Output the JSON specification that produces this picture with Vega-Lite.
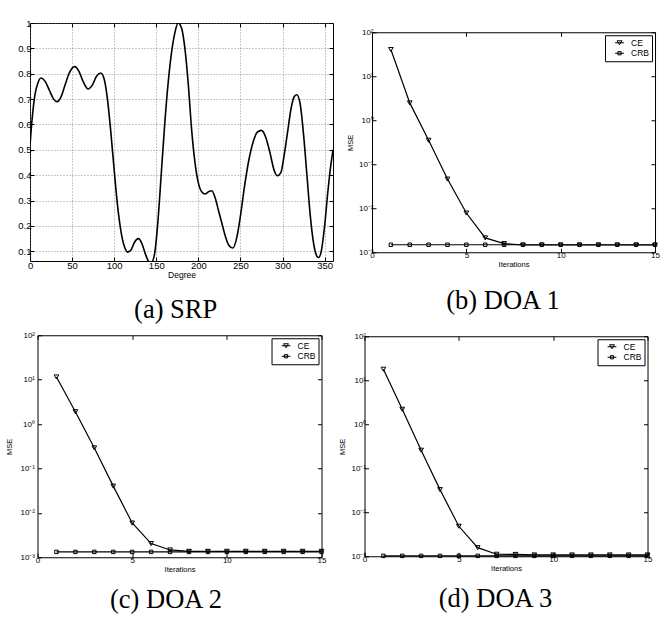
{
  "$schema": "https://vega.github.io/schema/vega-lite/v6.json",
  "background": "white",
  "padding": {"left": 5, "top": 5, "right": 2, "bottom": 2},
  "datasets": {
    "srp": [
      {"deg": 0, "v": 0.52}, {"deg": 3, "v": 0.64}, {"deg": 6, "v": 0.72}, {"deg": 9, "v": 0.76},
      {"deg": 13, "v": 0.783}, {"deg": 18, "v": 0.77}, {"deg": 23, "v": 0.735}, {"deg": 28, "v": 0.70},
      {"deg": 32, "v": 0.69}, {"deg": 37, "v": 0.71}, {"deg": 42, "v": 0.76}, {"deg": 47, "v": 0.805},
      {"deg": 53, "v": 0.828}, {"deg": 58, "v": 0.81}, {"deg": 63, "v": 0.77}, {"deg": 69, "v": 0.74},
      {"deg": 74, "v": 0.755}, {"deg": 79, "v": 0.79}, {"deg": 84, "v": 0.803}, {"deg": 88, "v": 0.78},
      {"deg": 92, "v": 0.70}, {"deg": 96, "v": 0.57}, {"deg": 100, "v": 0.42}, {"deg": 104, "v": 0.28},
      {"deg": 108, "v": 0.18}, {"deg": 112, "v": 0.12}, {"deg": 116, "v": 0.097}, {"deg": 120, "v": 0.105},
      {"deg": 124, "v": 0.135}, {"deg": 129, "v": 0.15}, {"deg": 133, "v": 0.13}, {"deg": 137, "v": 0.09},
      {"deg": 141, "v": 0.06}, {"deg": 144, "v": 0.055}, {"deg": 148, "v": 0.09}, {"deg": 152, "v": 0.22},
      {"deg": 156, "v": 0.41}, {"deg": 160, "v": 0.60}, {"deg": 164, "v": 0.76}, {"deg": 168, "v": 0.88},
      {"deg": 172, "v": 0.96}, {"deg": 176, "v": 1.0}, {"deg": 180, "v": 0.98}, {"deg": 184, "v": 0.90},
      {"deg": 188, "v": 0.76}, {"deg": 192, "v": 0.58}, {"deg": 196, "v": 0.45}, {"deg": 200, "v": 0.37},
      {"deg": 204, "v": 0.335}, {"deg": 208, "v": 0.326}, {"deg": 212, "v": 0.335}, {"deg": 216, "v": 0.339},
      {"deg": 220, "v": 0.31}, {"deg": 224, "v": 0.26}, {"deg": 228, "v": 0.21}, {"deg": 232, "v": 0.16},
      {"deg": 236, "v": 0.125}, {"deg": 241, "v": 0.113}, {"deg": 246, "v": 0.16}, {"deg": 250, "v": 0.24},
      {"deg": 255, "v": 0.36}, {"deg": 260, "v": 0.46}, {"deg": 265, "v": 0.53}, {"deg": 270, "v": 0.57},
      {"deg": 275, "v": 0.577}, {"deg": 280, "v": 0.55}, {"deg": 285, "v": 0.49}, {"deg": 290, "v": 0.42},
      {"deg": 294, "v": 0.398}, {"deg": 298, "v": 0.41}, {"deg": 302, "v": 0.48}, {"deg": 306, "v": 0.57},
      {"deg": 310, "v": 0.66}, {"deg": 314, "v": 0.71}, {"deg": 317, "v": 0.717}, {"deg": 321, "v": 0.68},
      {"deg": 325, "v": 0.56}, {"deg": 329, "v": 0.40}, {"deg": 333, "v": 0.24}, {"deg": 337, "v": 0.13},
      {"deg": 341, "v": 0.08}, {"deg": 343, "v": 0.076}, {"deg": 346, "v": 0.10}, {"deg": 350, "v": 0.20},
      {"deg": 354, "v": 0.34}, {"deg": 357, "v": 0.43}, {"deg": 360, "v": 0.50}
    ],
    "doa1": [
      {"it": 1, "s": "CE", "mse": 40.4}, {"it": 2, "s": "CE", "mse": 2.48}, {"it": 3, "s": "CE", "mse": 0.35},
      {"it": 4, "s": "CE", "mse": 0.046}, {"it": 5, "s": "CE", "mse": 0.0078}, {"it": 6, "s": "CE", "mse": 0.00212},
      {"it": 7, "s": "CE", "mse": 0.00157}, {"it": 8, "s": "CE", "mse": 0.00146}, {"it": 9, "s": "CE", "mse": 0.00146},
      {"it": 10, "s": "CE", "mse": 0.00146}, {"it": 11, "s": "CE", "mse": 0.00146}, {"it": 12, "s": "CE", "mse": 0.00146},
      {"it": 13, "s": "CE", "mse": 0.00146}, {"it": 14, "s": "CE", "mse": 0.00146}, {"it": 15, "s": "CE", "mse": 0.00146},
      {"it": 1, "s": "CRB", "mse": 0.00148}, {"it": 2, "s": "CRB", "mse": 0.00148}, {"it": 3, "s": "CRB", "mse": 0.00148},
      {"it": 4, "s": "CRB", "mse": 0.00148}, {"it": 5, "s": "CRB", "mse": 0.00148}, {"it": 6, "s": "CRB", "mse": 0.00148},
      {"it": 7, "s": "CRB", "mse": 0.00148}, {"it": 8, "s": "CRB", "mse": 0.00148}, {"it": 9, "s": "CRB", "mse": 0.00148},
      {"it": 10, "s": "CRB", "mse": 0.00148}, {"it": 11, "s": "CRB", "mse": 0.00148}, {"it": 12, "s": "CRB", "mse": 0.00148},
      {"it": 13, "s": "CRB", "mse": 0.00148}, {"it": 14, "s": "CRB", "mse": 0.00148}, {"it": 15, "s": "CRB", "mse": 0.00148}
    ],
    "doa2": [
      {"it": 1, "s": "CE", "mse": 11.5}, {"it": 2, "s": "CE", "mse": 1.9}, {"it": 3, "s": "CE", "mse": 0.29},
      {"it": 4, "s": "CE", "mse": 0.040}, {"it": 5, "s": "CE", "mse": 0.0059}, {"it": 6, "s": "CE", "mse": 0.00203},
      {"it": 7, "s": "CE", "mse": 0.00146}, {"it": 8, "s": "CE", "mse": 0.00136}, {"it": 9, "s": "CE", "mse": 0.00136},
      {"it": 10, "s": "CE", "mse": 0.00136}, {"it": 11, "s": "CE", "mse": 0.00136}, {"it": 12, "s": "CE", "mse": 0.00136},
      {"it": 13, "s": "CE", "mse": 0.00136}, {"it": 14, "s": "CE", "mse": 0.00136}, {"it": 15, "s": "CE", "mse": 0.00136},
      {"it": 1, "s": "CRB", "mse": 0.00132}, {"it": 2, "s": "CRB", "mse": 0.00132}, {"it": 3, "s": "CRB", "mse": 0.00132},
      {"it": 4, "s": "CRB", "mse": 0.00132}, {"it": 5, "s": "CRB", "mse": 0.00132}, {"it": 6, "s": "CRB", "mse": 0.00132},
      {"it": 7, "s": "CRB", "mse": 0.00132}, {"it": 8, "s": "CRB", "mse": 0.00132}, {"it": 9, "s": "CRB", "mse": 0.00132},
      {"it": 10, "s": "CRB", "mse": 0.00132}, {"it": 11, "s": "CRB", "mse": 0.00132}, {"it": 12, "s": "CRB", "mse": 0.00132},
      {"it": 13, "s": "CRB", "mse": 0.00132}, {"it": 14, "s": "CRB", "mse": 0.00132}, {"it": 15, "s": "CRB", "mse": 0.00132}
    ],
    "doa3": [
      {"it": 1, "s": "CE", "mse": 17.8}, {"it": 2, "s": "CE", "mse": 2.19}, {"it": 3, "s": "CE", "mse": 0.257},
      {"it": 4, "s": "CE", "mse": 0.0327}, {"it": 5, "s": "CE", "mse": 0.0048}, {"it": 6, "s": "CE", "mse": 0.00157},
      {"it": 7, "s": "CE", "mse": 0.00111}, {"it": 8, "s": "CE", "mse": 0.00110}, {"it": 9, "s": "CE", "mse": 0.00107},
      {"it": 10, "s": "CE", "mse": 0.00107}, {"it": 11, "s": "CE", "mse": 0.00107}, {"it": 12, "s": "CE", "mse": 0.00107},
      {"it": 13, "s": "CE", "mse": 0.00107}, {"it": 14, "s": "CE", "mse": 0.00107}, {"it": 15, "s": "CE", "mse": 0.00107},
      {"it": 1, "s": "CRB", "mse": 0.00102}, {"it": 2, "s": "CRB", "mse": 0.00102}, {"it": 3, "s": "CRB", "mse": 0.00102},
      {"it": 4, "s": "CRB", "mse": 0.00102}, {"it": 5, "s": "CRB", "mse": 0.00102}, {"it": 6, "s": "CRB", "mse": 0.00102},
      {"it": 7, "s": "CRB", "mse": 0.00102}, {"it": 8, "s": "CRB", "mse": 0.00102}, {"it": 9, "s": "CRB", "mse": 0.00102},
      {"it": 10, "s": "CRB", "mse": 0.00102}, {"it": 11, "s": "CRB", "mse": 0.00102}, {"it": 12, "s": "CRB", "mse": 0.00102},
      {"it": 13, "s": "CRB", "mse": 0.00102}, {"it": 14, "s": "CRB", "mse": 0.00102}, {"it": 15, "s": "CRB", "mse": 0.00102}
    ]
  },
  "center": true,
  "spacing": 6,
  "vconcat": [
    {
      "center": true,
      "spacing": 11,
      "resolve": {"legend": {"shape": "independent"}, "scale": {"shape": "independent"}},
      "hconcat": [
        {
          "width": 303,
          "height": 238,
          "data": {"name": "srp"},
          "title": {"text": "(a) SRP", "orient": "bottom", "frame": "bounds", "font": "Liberation Serif", "fontSize": 26.5, "fontWeight": "normal", "color": "black", "offset": 18},
          "resolve": {"axis": {"x": "independent", "y": "independent"}},
          "layer": [
            {
              "mark": {"type": "line", "color": "black", "strokeWidth": 1.6, "interpolate": "monotone", "clip": true},
              "encoding": {
                "x": {"field": "deg", "type": "quantitative", "scale": {"domain": [0, 360], "nice": false},
                  "axis": {"values": [0, 50, 100, 150, 200, 250, 300, 350], "title": "Degree", "grid": true, "labelFontSize": 9.5, "titleFontSize": 8.5, "titlePadding": 1}},
                "y": {"field": "v", "type": "quantitative", "scale": {"domain": [0.062, 1], "nice": false, "zero": false},
                  "axis": {"values": [0.1, 0.2, 0.3, 0.4, 0.5, 0.6, 0.7, 0.8, 0.9, 1], "format": "~g", "title": null, "grid": true, "labelFontSize": 9.5}}
              }
            },
            {
              "transform": [{"filter": "datum.deg > 1000"}],
              "mark": {"type": "point", "color": "black"},
              "encoding": {
                "x": {"field": "deg", "type": "quantitative", "axis": {"orient": "top", "values": [0, 50, 100, 150, 200, 250, 300, 350], "labels": false, "title": null, "grid": false}},
                "y": {"field": "v", "type": "quantitative", "axis": {"orient": "right", "values": [0.1, 0.2, 0.3, 0.4, 0.5, 0.6, 0.7, 0.8, 0.9, 1], "labels": false, "title": null, "grid": false}}
              }
            }
          ]
        },
        {
          "width": 283,
          "height": 220,
          "data": {"name": "doa1"},
          "title": {"text": "(b) DOA 1", "orient": "bottom", "frame": "bounds", "font": "Liberation Serif", "fontSize": 26.5, "fontWeight": "normal", "color": "black", "offset": 20},
          "resolve": {"legend": {"shape": "independent"}, "scale": {"shape": "independent"}, "axis": {"x": "independent", "y": "independent"}},
          "layer": [
            {"mark": {"type": "line", "color": "black", "strokeWidth": 1.2},
              "encoding": {
                "x": {"field": "it", "type": "quantitative", "scale": {"domain": [0, 15], "nice": false},
                  "axis": {"values": [0, 5, 10, 15], "title": "Iterations", "labelFontSize": 8, "titleFontSize": 7.5, "titlePadding": 1}},
                "y": {"field": "mse", "type": "quantitative", "scale": {"type": "log", "domain": [0.001, 100], "nice": false},
                  "axis": {"values": [0.001, 0.01, 0.1, 1, 10, 100], "title": "MSE", "labelFontSize": 8, "titleFontSize": 7.5, "titlePadding": 4,
                    "labelExpr": "datum.value >= 99 ? '10²' : datum.value >= 9 ? '10¹' : datum.value >= 0.9 ? '10⁰' : datum.value >= 0.09 ? '10⁻¹' : datum.value >= 0.009 ? '10⁻²' : '10⁻³'"}},
                "detail": {"field": "s"}
              }},
            {"mark": {"type": "point", "color": "black", "filled": false, "strokeWidth": 1, "opacity": 1},
              "encoding": {
                "x": {"field": "it", "type": "quantitative", "axis": null},
                "y": {"field": "mse", "type": "quantitative", "axis": null},
                "shape": {"field": "s", "type": "nominal", "scale": {"domain": ["CE", "CRB"], "range": ["triangle-down", "square"]}, "legend": null},
                "size": {"condition": {"test": "datum.s === 'CE'", "value": 22}, "value": 12}
              }},
            {"transform": [{"filter": "datum.it > 100"}],
              "mark": {"type": "point", "color": "black", "filled": false, "strokeWidth": 1, "opacity": 1},
              "encoding": {
                "x": {"field": "it", "type": "quantitative", "axis": {"orient": "top", "values": [0, 5, 10, 15], "labels": false, "title": " ", "titleFontSize": 12, "titlePadding": 13}},
                "y": {"field": "mse", "type": "quantitative", "axis": {"orient": "right", "values": [0.001, 0.01, 0.1, 1, 10, 100], "labels": false, "title": null}},
                "shape": {"field": "s", "type": "nominal", "scale": {"domain": ["CE", "CRB"], "range": ["M-1.1,0H1.1M-0.6,-0.5H0.6L0,0.5Z", "M-1.1,0H1.1M-0.4,-0.4H0.4V0.4H-0.4Z"]},
                  "legend": {"title": null, "orient": "top-right", "offset": 3, "strokeColor": "black", "fillColor": "white", "padding": 3, "labelFontSize": 8.5, "labelFont": "Liberation Sans", "labelColor": "black", "rowPadding": 1.5, "symbolStrokeColor": "black", "symbolStrokeWidth": 1, "symbolSize": 64, "symbolFillColor": "transparent", "symbolOffset": 7, "labelOffset": 7}}
              }}
          ]
        }
      ]
    },
    {
      "center": true,
      "spacing": 11,
      "resolve": {"legend": {"shape": "independent"}, "scale": {"shape": "independent"}},
      "hconcat": [
        {
          "width": 284,
          "height": 222,
          "data": {"name": "doa2"},
          "title": {"text": "(c) DOA 2", "orient": "bottom", "frame": "bounds", "font": "Liberation Serif", "fontSize": 26.5, "fontWeight": "normal", "color": "black", "offset": 14},
          "resolve": {"legend": {"shape": "independent"}, "scale": {"shape": "independent"}, "axis": {"x": "independent", "y": "independent"}},
          "layer": [
            {"mark": {"type": "line", "color": "black", "strokeWidth": 1.2},
              "encoding": {
                "x": {"field": "it", "type": "quantitative", "scale": {"domain": [0, 15], "nice": false},
                  "axis": {"values": [0, 5, 10, 15], "title": "Iterations", "labelFontSize": 8, "titleFontSize": 7.5, "titlePadding": 1}},
                "y": {"field": "mse", "type": "quantitative", "scale": {"type": "log", "domain": [0.001, 100], "nice": false},
                  "axis": {"values": [0.001, 0.01, 0.1, 1, 10, 100], "title": "MSE", "labelFontSize": 8, "titleFontSize": 7.5, "titlePadding": 6, "labelPadding": 7,
                    "labelExpr": "datum.value >= 99 ? '10²' : datum.value >= 9 ? '10¹' : datum.value >= 0.9 ? '10⁰' : datum.value >= 0.09 ? '10⁻¹' : datum.value >= 0.009 ? '10⁻²' : '10⁻³'"}},
                "detail": {"field": "s"}
              }},
            {"mark": {"type": "point", "color": "black", "filled": false, "strokeWidth": 1, "opacity": 1},
              "encoding": {
                "x": {"field": "it", "type": "quantitative", "axis": null},
                "y": {"field": "mse", "type": "quantitative", "axis": null},
                "shape": {"field": "s", "type": "nominal", "scale": {"domain": ["CE", "CRB"], "range": ["triangle-down", "square"]}, "legend": null},
                "size": {"condition": {"test": "datum.s === 'CE'", "value": 22}, "value": 12}
              }},
            {"transform": [{"filter": "datum.it > 100"}],
              "mark": {"type": "point", "color": "black", "filled": false, "strokeWidth": 1, "opacity": 1},
              "encoding": {
                "x": {"field": "it", "type": "quantitative", "axis": {"orient": "top", "values": [0, 5, 10, 15], "labels": false, "title": null}},
                "y": {"field": "mse", "type": "quantitative", "axis": {"orient": "right", "values": [0.001, 0.01, 0.1, 1, 10, 100], "labels": false, "title": null}},
                "shape": {"field": "s", "type": "nominal", "scale": {"domain": ["CE", "CRB"], "range": ["M-1.1,0H1.1M-0.6,-0.5H0.6L0,0.5Z", "M-1.1,0H1.1M-0.4,-0.4H0.4V0.4H-0.4Z"]},
                  "legend": {"title": null, "orient": "top-right", "offset": 3, "strokeColor": "black", "fillColor": "white", "padding": 3, "labelFontSize": 8.5, "labelFont": "Liberation Sans", "labelColor": "black", "rowPadding": 1.5, "symbolStrokeColor": "black", "symbolStrokeWidth": 1, "symbolSize": 64, "symbolFillColor": "transparent", "symbolOffset": 7, "labelOffset": 7}}
              }}
          ]
        },
        {
          "width": 283,
          "height": 220,
          "data": {"name": "doa3"},
          "title": {"text": "(d) DOA 3", "orient": "bottom", "frame": "bounds", "font": "Liberation Serif", "fontSize": 26.5, "fontWeight": "normal", "color": "black", "offset": 14},
          "resolve": {"legend": {"shape": "independent"}, "scale": {"shape": "independent"}, "axis": {"x": "independent", "y": "independent"}},
          "layer": [
            {"mark": {"type": "line", "color": "black", "strokeWidth": 1.2},
              "encoding": {
                "x": {"field": "it", "type": "quantitative", "scale": {"domain": [0, 15], "nice": false},
                  "axis": {"values": [0, 5, 10, 15], "title": "Iterations", "labelFontSize": 8, "titleFontSize": 7.5, "titlePadding": 1}},
                "y": {"field": "mse", "type": "quantitative", "scale": {"type": "log", "domain": [0.001, 100], "nice": false},
                  "axis": {"values": [0.001, 0.01, 0.1, 1, 10, 100], "title": "MSE", "labelFontSize": 8, "titleFontSize": 7.5, "titlePadding": 4,
                    "labelExpr": "datum.value >= 99 ? '10²' : datum.value >= 9 ? '10¹' : datum.value >= 0.9 ? '10⁰' : datum.value >= 0.09 ? '10⁻¹' : datum.value >= 0.009 ? '10⁻²' : '10⁻³'"}},
                "detail": {"field": "s"}
              }},
            {"mark": {"type": "point", "color": "black", "filled": false, "strokeWidth": 1, "opacity": 1},
              "encoding": {
                "x": {"field": "it", "type": "quantitative", "axis": null},
                "y": {"field": "mse", "type": "quantitative", "axis": null},
                "shape": {"field": "s", "type": "nominal", "scale": {"domain": ["CE", "CRB"], "range": ["triangle-down", "square"]}, "legend": null},
                "size": {"condition": {"test": "datum.s === 'CE'", "value": 22}, "value": 12}
              }},
            {"transform": [{"filter": "datum.it > 100"}],
              "mark": {"type": "point", "color": "black", "filled": false, "strokeWidth": 1, "opacity": 1},
              "encoding": {
                "x": {"field": "it", "type": "quantitative", "axis": {"orient": "top", "values": [0, 5, 10, 15], "labels": false, "title": null}},
                "y": {"field": "mse", "type": "quantitative", "axis": {"orient": "right", "values": [0.001, 0.01, 0.1, 1, 10, 100], "labels": false, "title": null}},
                "shape": {"field": "s", "type": "nominal", "scale": {"domain": ["CE", "CRB"], "range": ["M-1.1,0H1.1M-0.6,-0.5H0.6L0,0.5Z", "M-1.1,0H1.1M-0.4,-0.4H0.4V0.4H-0.4Z"]},
                  "legend": {"title": null, "orient": "top-right", "offset": 3, "strokeColor": "black", "fillColor": "white", "padding": 3, "labelFontSize": 8.5, "labelFont": "Liberation Sans", "labelColor": "black", "rowPadding": 1.5, "symbolStrokeColor": "black", "symbolStrokeWidth": 1, "symbolSize": 64, "symbolFillColor": "transparent", "symbolOffset": 7, "labelOffset": 7}}
              }}
          ]
        }
      ]
    }
  ],
  "resolve": {"legend": {"shape": "independent"}, "scale": {"shape": "independent"}},
  "config": {
    "font": "Liberation Sans",
    "view": {"stroke": "black", "strokeWidth": 1},
    "axis": {"domain": false, "tickColor": "black", "tickSize": -4, "labelPadding": 3, "labelColor": "black", "titleColor": "black", "labelFont": "Liberation Sans", "titleFont": "Liberation Sans", "titleFontWeight": "normal", "grid": false, "gridColor": "#777777", "gridDash": [1, 2], "gridWidth": 0.8, "labelOverlap": false, "labelFlush": false, "minExtent": 0}
  }
}
